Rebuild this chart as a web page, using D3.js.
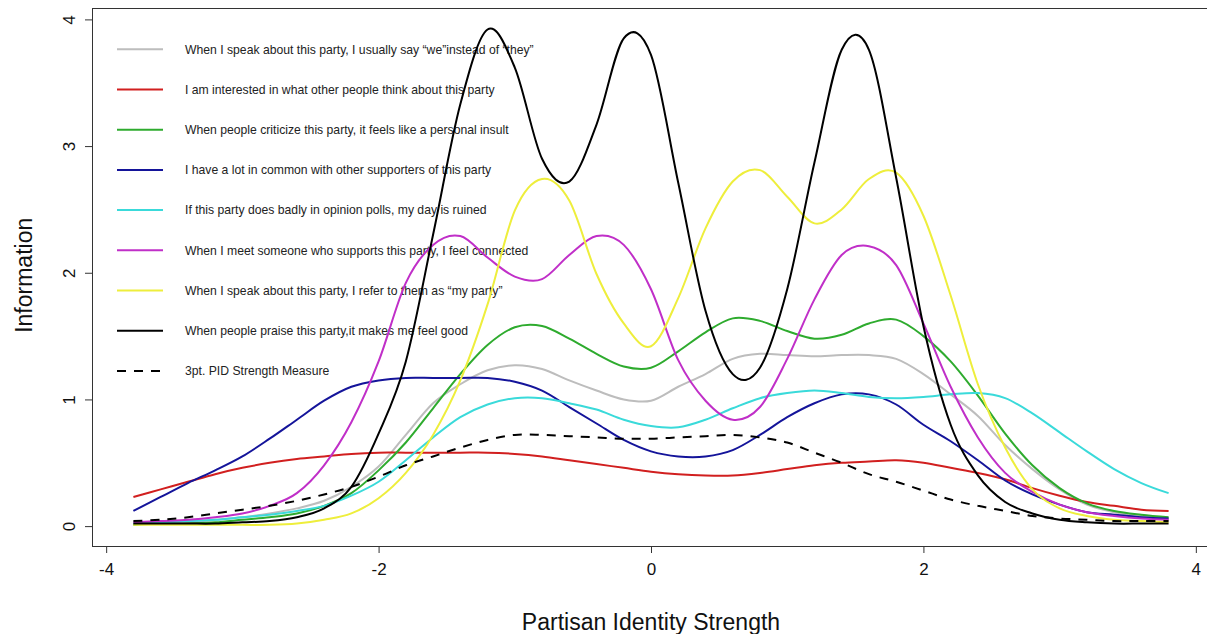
<!DOCTYPE html>
<html>
<head>
<meta charset="utf-8">
<script src="https://d3js.org/d3.v7.min.js"></script>
<style>
  body { margin:0; background:#fff; }
  text { font-family: "Liberation Sans", Arial, sans-serif; fill:#111; }
  .curve { fill:none; stroke-width:2; stroke-linejoin:round; }
  .axis path { display:none; }
  .axis line { stroke:#333; }
</style>
</head>
<body>
<script>

  // latent trait grid
  var theta = [-3.8,-3.6,-3.4,-3.2,-3.0,-2.8,-2.6,-2.4,-2.2,-2.0,-1.8,-1.6,-1.4,-1.2,-1.0,-0.8,-0.6,-0.4,-0.2,0,
               0.2,0.4,0.6,0.8,1.0,1.2,1.4,1.6,1.8,2.0,2.2,2.4,2.6,2.8,3.0,3.2,3.4,3.6,3.8];

  // item information
  var weInstead  = [0.02,0.02,0.03,0.05,0.07,0.10,0.14,0.20,0.31,0.47,0.72,0.97,1.12,1.23,1.27,1.24,1.15,1.07,1.00,0.99,
                    1.10,1.20,1.32,1.36,1.35,1.34,1.35,1.35,1.32,1.20,1.04,0.87,0.64,0.45,0.29,0.17,0.11,0.08,0.06];
  var interested = [0.23,0.29,0.35,0.41,0.46,0.50,0.53,0.55,0.57,0.58,0.58,0.58,0.58,0.58,0.57,0.55,0.52,0.49,0.46,0.43,
                    0.41,0.40,0.40,0.42,0.45,0.48,0.50,0.51,0.52,0.50,0.46,0.42,0.37,0.30,0.24,0.19,0.16,0.13,0.12];
  var criticize  = [0.01,0.02,0.02,0.03,0.05,0.07,0.10,0.16,0.26,0.44,0.66,0.93,1.20,1.43,1.57,1.58,1.48,1.36,1.26,1.25,
                    1.38,1.53,1.64,1.62,1.54,1.48,1.51,1.60,1.63,1.50,1.30,1.03,0.73,0.48,0.30,0.18,0.12,0.09,0.07];
  var common     = [0.12,0.23,0.34,0.44,0.55,0.69,0.84,0.99,1.10,1.15,1.17,1.17,1.17,1.17,1.14,1.07,0.94,0.81,0.68,0.59,
                    0.55,0.55,0.60,0.72,0.86,0.97,1.04,1.04,0.96,0.80,0.67,0.52,0.36,0.25,0.17,0.11,0.09,0.07,0.06];
  var polls      = [0.02,0.03,0.04,0.05,0.07,0.09,0.12,0.16,0.24,0.35,0.52,0.70,0.86,0.96,1.01,1.01,0.97,0.92,0.84,0.79,
                    0.78,0.84,0.93,1.01,1.05,1.07,1.05,1.02,1.01,1.02,1.04,1.05,1.01,0.89,0.74,0.59,0.45,0.34,0.26];
  var connected  = [0.03,0.04,0.05,0.07,0.10,0.16,0.26,0.48,0.82,1.30,1.92,2.22,2.29,2.12,1.97,1.95,2.14,2.29,2.22,1.87,
                    1.31,0.99,0.84,0.94,1.32,1.79,2.14,2.21,2.06,1.60,1.10,0.70,0.42,0.27,0.17,0.11,0.08,0.06,0.05];
  var myParty    = [0.01,0.01,0.01,0.01,0.01,0.01,0.02,0.05,0.10,0.22,0.42,0.72,1.15,1.75,2.49,2.74,2.57,1.99,1.60,1.42,
                    1.80,2.35,2.72,2.81,2.60,2.39,2.50,2.74,2.79,2.45,1.82,1.12,0.62,0.29,0.14,0.08,0.05,0.04,0.03];
  var praise     = [0.02,0.02,0.02,0.02,0.03,0.04,0.07,0.14,0.31,0.73,1.30,2.30,3.33,3.92,3.62,2.90,2.72,3.17,3.85,3.72,
                    2.71,1.70,1.20,1.25,1.87,2.87,3.76,3.76,2.75,1.58,0.80,0.40,0.19,0.10,0.05,0.03,0.02,0.02,0.02];
  var pid3       = [0.04,0.05,0.07,0.10,0.13,0.16,0.20,0.25,0.31,0.39,0.48,0.55,0.62,0.68,0.72,0.72,0.71,0.70,0.69,0.69,
                    0.70,0.71,0.72,0.70,0.66,0.58,0.50,0.41,0.35,0.28,0.21,0.16,0.12,0.08,0.06,0.05,0.04,0.04,0.04];

  var labels = [
    "When I speak about this party, I usually say \u201cwe\u201dinstead of \u201cthey\u201d",
    "I am interested in what other people think about this party",
    "When people criticize this party, it feels like a personal insult",
    "I have a lot in common with other supporters of this party",
    "If this party does badly in opinion polls, my day is ruined",
    "When I meet someone who supports this party, I feel connected",
    "When I speak about this party, I refer to them as \u201cmy party\u201d",
    "When people praise this party,it makes me feel good",
    "3pt. PID Strength Measure"
  ];
  var xTicks = [-4, -2, 0, 2, 4];
  var yTicks = [0, 1, 2, 3, 4];

  var values = [weInstead, interested, criticize, common, polls, connected, myParty, praise, pid3];
  var colors = ["#bdbdbd", "#d11f1f", "#2eab2e", "#14149a", "#3adada", "#c02fc8", "#eeee3c", "#000000", "#000000"];
  var dashes = [null, null, null, null, null, null, null, null, "9,8"];

  var svg = d3.select("body").append("svg")
    .attr("width", 1207)
    .attr("height", 634);

  var x = d3.scaleLinear().domain([-4.104, 4.104]).range([92, 1210]);
  var y = d3.scaleLinear().domain([-0.157, 4.09]).range([546, 8]);

  // x axis
  var xAxis = svg.append("g")
    .attr("class", "axis")
    .attr("transform", "translate(0,546)")
    .call(d3.axisBottom(x).tickValues(xTicks).tickSize(7).tickPadding(10).tickFormat(d => String(d)));
  xAxis.selectAll("text").style("font-size", "17px").attr("dy", "0.71em");

  // y axis, labels parallel to the axis
  var yAxis = svg.append("g")
    .attr("class", "axis")
    .attr("transform", "translate(92,0)")
    .call(d3.axisLeft(y).tickValues(yTicks).tickSize(7).tickFormat(d => String(d)));
  yAxis.selectAll("text")
    .style("font-size", "17px")
    .attr("text-anchor", "middle")
    .attr("transform", "rotate(-90)")
    .attr("x", 0)
    .attr("y", -17)
    .attr("dy", 0);

  // plot frame
  svg.append("rect")
    .attr("x", 92.5).attr("y", 8.5)
    .attr("width", 1210 - 92).attr("height", 546 - 8)
    .attr("fill", "none").attr("stroke", "#333");

  // axis titles
  svg.append("text")
    .attr("x", x(0)).attr("y", 630)
    .attr("text-anchor", "middle")
    .style("font-size", "23px")
    .text("Partisan Identity Strength");

  svg.append("text")
    .attr("transform", "translate(32," + y(1.98) + ") rotate(-90)")
    .attr("text-anchor", "middle")
    .style("font-size", "23px")
    .text("Information");

  // legend
  var legend = svg.append("g").selectAll("g")
    .data(labels)
    .enter().append("g")
    .attr("transform", (d, i) => "translate(0," + (49.3 + i * 40.2) + ")");

  legend.append("line")
    .attr("x1", 117).attr("x2", 163)
    .attr("stroke", (d, i) => colors[i])
    .attr("stroke-width", 2)
    .attr("stroke-dasharray", (d, i) => dashes[i]);

  legend.append("text")
    .attr("x", 185)
    .attr("dy", "0.35em")
    .style("font-size", "12.2px")
    .style("fill", "#222")
    .text(d => d);

  // information curves
  var line = d3.line()
    .x((d, i) => x(theta[i]))
    .y(d => y(d))
    .curve(d3.curveCatmullRom.alpha(0));

  svg.append("g").selectAll("path")
    .data(values)
    .enter().append("path")
    .attr("class", "curve")
    .attr("stroke", (d, i) => colors[i])
    .attr("stroke-dasharray", (d, i) => dashes[i])
    .attr("d", line);

</script>
</body>
</html>
